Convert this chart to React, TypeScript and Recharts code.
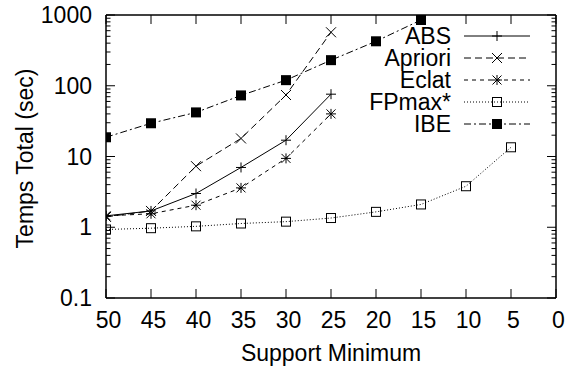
import { LineChart, Line, XAxis, YAxis, Legend } from 'recharts'

// support thresholds (x) and total time in seconds per algorithm
const SUPPORT = [50, 45, 40, 35, 30, 25, 20, 15, 10, 5]
const ABS = [1.45, 1.7, 3.0, 7.0, 17, 76]
const APRIORI = [1.4, 1.7, 7.3, 18, 74, 570]
const ECLAT = [1.45, 1.55, 2.05, 3.6, 9.4, 40]
const FPMAX = [0.93, 0.97, 1.03, 1.13, 1.2, 1.35, 1.65, 2.1, 3.8, 13.5]
const IBE = [18.7, 29.5, 42, 73, 120, 230, 425, 850]

const X_TICKS = [50, 45, 40, 35, 30, 25, 20, 15, 10, 5, 0]
const Y_MAJOR = [0.1, 1, 10, 100, 1000]
const Y_LABELS = ['0.1', '1', '10', '100', '1000']
const Y_TICKS = Y_MAJOR.slice(0, -1).flatMap(d => [2, 3, 4, 5, 6, 7, 8, 9].map(k => +(d * k).toPrecision(3))).concat(Y_MAJOR)

const FONT = '"Liberation Sans", Arial, Helvetica, sans-serif'
const FS = 23
const MAJOR = 9
const MINOR = 4.5
const Y_MARGIN = 14
const X_MARGIN = 30

type Kind = 'plus' | 'cross' | 'star' | 'box' | 'fbox'

const SERIES: { name: string; values: number[]; dash?: string; marker: Kind }[] = [
  { name: 'ABS', values: ABS, marker: 'plus' },
  { name: 'Apriori', values: APRIORI, dash: '7 4', marker: 'cross' },
  { name: 'Eclat', values: ECLAT, dash: '4 4', marker: 'star' },
  { name: 'FPmax*', values: FPMAX, dash: '1 2', marker: 'box' },
  { name: 'IBE', values: IBE, dash: '7 3 2 3', marker: 'fbox' },
]

function Marker({ kind, cx, cy }: { kind: Kind; cx: number; cy: number }) {
  const s = { stroke: '#000', strokeWidth: 1 }
  if (kind === 'plus') return (
    <g {...s}>
      <line x1={cx - 5} x2={cx + 5} y1={cy} y2={cy} />
      <line x1={cx} x2={cx} y1={cy - 5} y2={cy + 5} />
    </g>
  )
  if (kind === 'cross') return (
    <g {...s}>
      <line x1={cx - 5} x2={cx + 5} y1={cy - 5} y2={cy + 5} />
      <line x1={cx - 5} x2={cx + 5} y1={cy + 5} y2={cy - 5} />
    </g>
  )
  if (kind === 'star') return (
    <g {...s}>
      <line x1={cx - 5} x2={cx + 5} y1={cy} y2={cy} />
      <line x1={cx} x2={cx} y1={cy - 5} y2={cy + 5} />
      <line x1={cx - 4.5} x2={cx + 4.5} y1={cy - 4.5} y2={cy + 4.5} />
      <line x1={cx - 4.5} x2={cx + 4.5} y1={cy + 4.5} y2={cy - 4.5} />
    </g>
  )
  if (kind === 'box') return <rect x={cx - 4.5} y={cy - 4.5} width={9} height={9} fill="none" {...s} />
  return <rect x={cx - 5} y={cy - 5} width={10} height={10} fill="#000" />
}

function LeftTick({ x, y, payload }: any) {
  const i = Y_MAJOR.indexOf(payload.value)
  const edge = x + Y_MARGIN
  return (
    <g>
      <line x1={edge} x2={edge + (i >= 0 ? MAJOR : MINOR)} y1={y} y2={y} stroke="#000" />
      {i >= 0 && (
        <text x={x} y={y + 8} textAnchor="end" fontSize={FS} fontFamily={FONT} fill="#000">{Y_LABELS[i]}</text>
      )}
    </g>
  )
}

function RightTick({ x, y, payload }: any) {
  const len = Y_MAJOR.includes(payload.value) ? MAJOR : MINOR
  return <line x1={x - len} x2={x} y1={y} y2={y} stroke="#000" />
}

function BottomTick({ x, y, payload }: any) {
  const edge = y - X_MARGIN
  return (
    <g>
      <line x1={x} x2={x} y1={edge} y2={edge - MAJOR} stroke="#000" />
      <text x={x + 2.5} y={edge + 30} textAnchor="middle" fontSize={FS} fontFamily={FONT} fill="#000">{payload.value}</text>
    </g>
  )
}

function TopTick({ x, y }: any) {
  return <line x1={x} x2={x} y1={y} y2={y + MAJOR} stroke="#000" />
}

function XTitle({ viewBox }: any) {
  return (
    <text x={viewBox.x + viewBox.width / 2} y={viewBox.y + 63} textAnchor="middle" fontSize={FS} fontFamily={FONT} fill="#000">
      Support Minimum
    </text>
  )
}

function YTitle({ viewBox }: any) {
  const cx = 24.5
  const cy = viewBox.y + viewBox.height / 2 + 2
  return (
    <text x={cx} y={cy + 8} transform={`rotate(-90, ${cx}, ${cy})`} textAnchor="middle" fontSize={FS} fontFamily={FONT} fill="#000">
      Temps Total (sec)
    </text>
  )
}

function KeyBox({ payload }: any) {
  return (
    <svg width={571} height={371} style={{ position: 'absolute', left: 0, top: 0, pointerEvents: 'none' }}>
      {(payload ?? []).map((entry: any, i: number) => {
        const s = SERIES.find(d => d.name === entry.value)
        if (!s) return null
        const y = 36 + i * 22
        return (
          <g key={s.name}>
            <text x={451} y={y + 8} textAnchor="end" fontSize={FS} fontFamily={FONT} fill="#000">{s.name}</text>
            <line x1={464} x2={530} y1={y} y2={y} stroke="#000" strokeDasharray={s.dash} />
            <Marker kind={s.marker} cx={497} cy={y} />
          </g>
        )
      })}
    </svg>
  )
}

const axisLine = { stroke: '#000', strokeWidth: 1.5 }

export default function App() {
  return (
    <div style={{ position: 'absolute', left: 0, top: 0, width: 571, height: 371, background: '#fff' }}>
      <LineChart width={571} height={371} margin={{ top: 14, right: 14, bottom: 33, left: 46 }}>
        <XAxis
          xAxisId="x" dataKey="s" type="number" domain={[0, 50]} reversed allowDataOverflow
          ticks={X_TICKS} interval={0} height={40} tickSize={0} tickMargin={X_MARGIN}
          tickLine={false} axisLine={axisLine} tick={<BottomTick />} label={<XTitle />}
        />
        <XAxis
          xAxisId="top" orientation="top" dataKey="s" type="number" domain={[0, 50]} reversed allowDataOverflow
          ticks={X_TICKS} interval={0} height={1} tickSize={0} tickMargin={0}
          tickLine={false} axisLine={axisLine} tick={<TopTick />}
        />
        <YAxis
          yAxisId="y" type="number" scale="log" domain={[0.1, 1000]} allowDataOverflow
          ticks={Y_TICKS} interval={0} width={60} tickSize={0} tickMargin={Y_MARGIN}
          tickLine={false} axisLine={axisLine} tick={<LeftTick />} label={<YTitle />}
        />
        <YAxis
          yAxisId="right" orientation="right" type="number" scale="log" domain={[0.1, 1000]} allowDataOverflow
          ticks={Y_TICKS} interval={0} width={1} tickSize={0} tickMargin={0}
          tickLine={false} axisLine={axisLine} tick={<RightTick />}
        />
        <Legend content={<KeyBox />} wrapperStyle={{ left: 0, top: 0, width: 0, height: 0 }} />
        {SERIES.map(s => (
          <Line
            key={s.name}
            name={s.name}
            data={s.values.map((v, i) => ({ s: SUPPORT[i], v }))}
            dataKey="v"
            xAxisId="x"
            yAxisId="y"
            type="linear"
            stroke="#000"
            strokeWidth={1}
            strokeDasharray={s.dash}
            dot={(p: any) => <Marker key={`${s.name}-${p.index}`} kind={s.marker} cx={p.cx} cy={p.cy} />}
            activeDot={false}
            isAnimationActive={false}
          />
        ))}
      </LineChart>
    </div>
  )
}
